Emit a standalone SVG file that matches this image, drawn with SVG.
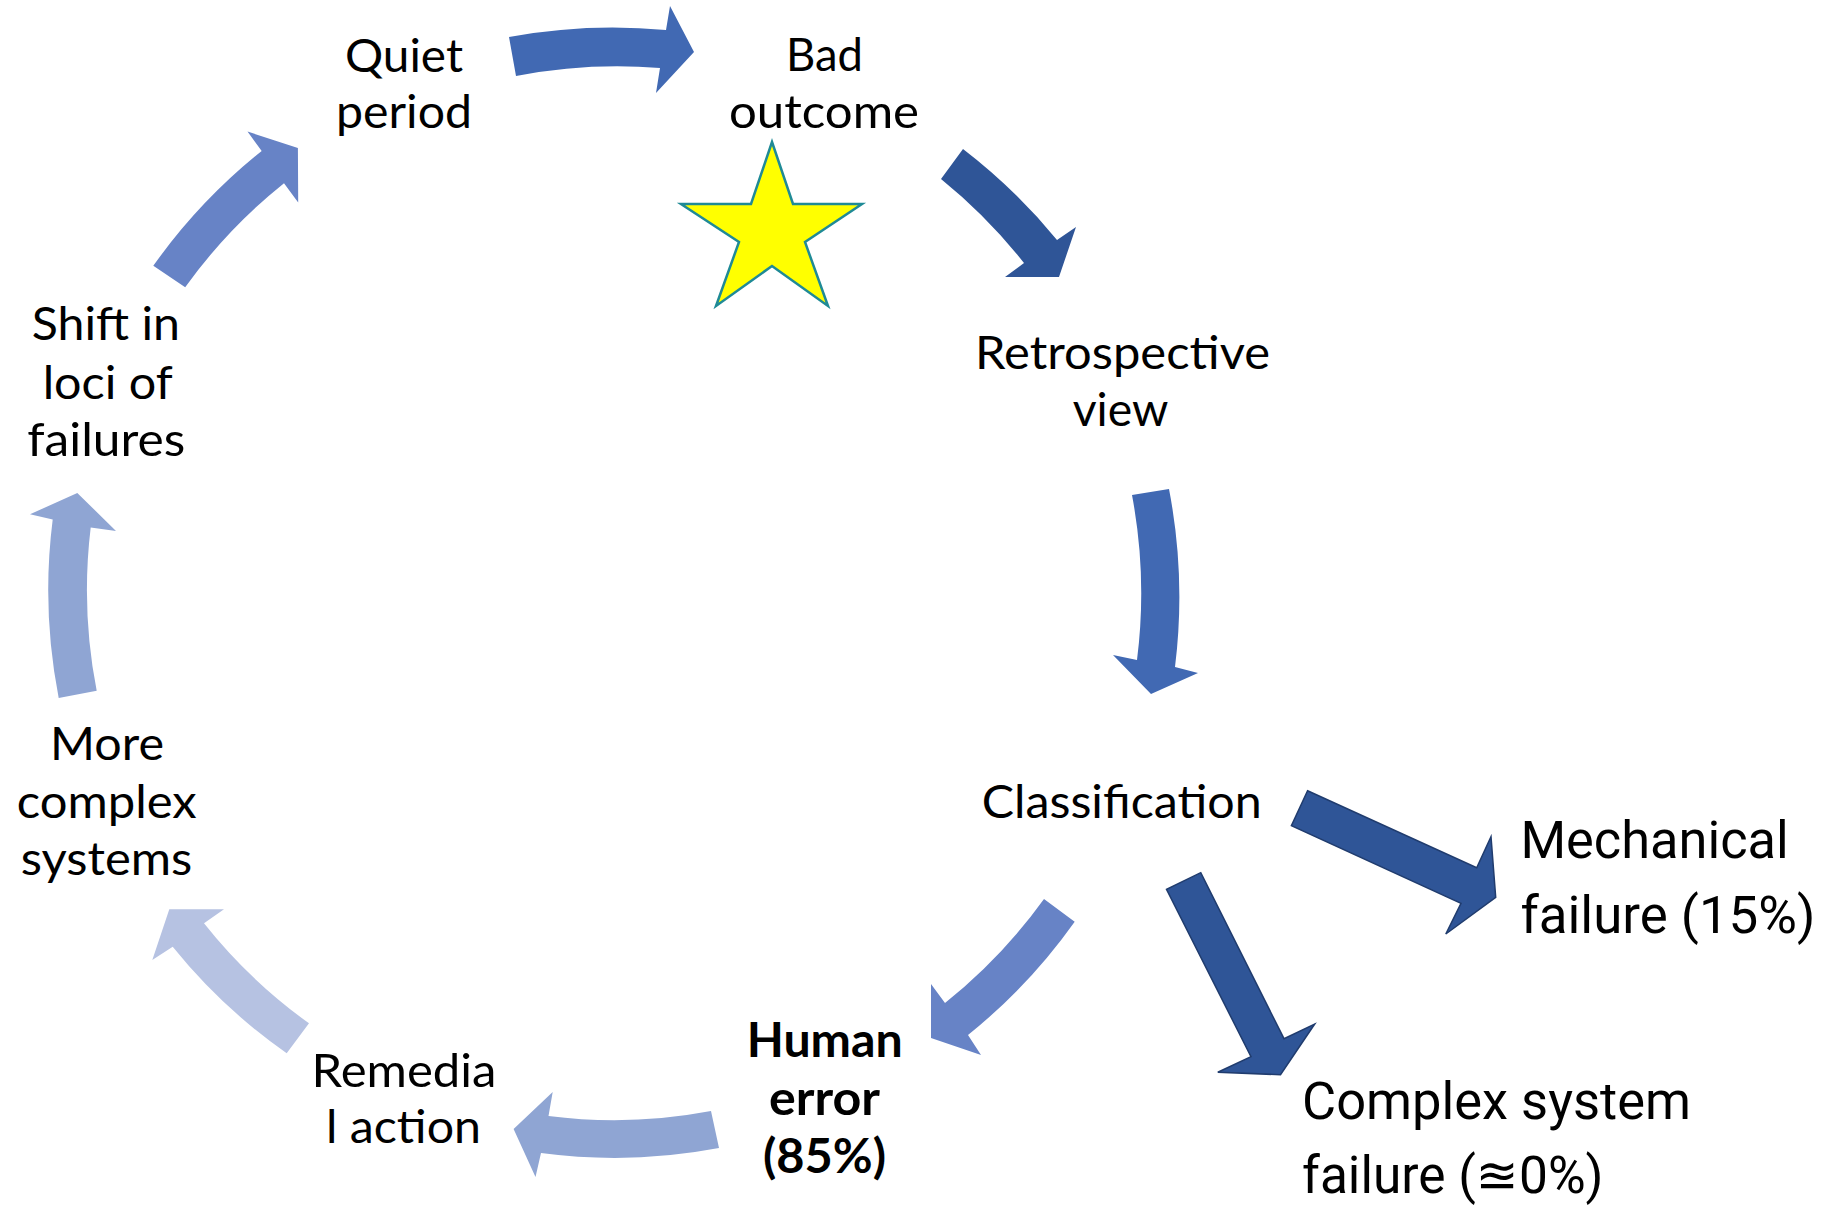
<svg xmlns="http://www.w3.org/2000/svg" width="1845" height="1205" viewBox="0 0 1845 1205">
  <style>
    .lbl { font-family: Lato, "Open Sans", "Liberation Sans", sans-serif; font-size: 47px; fill: #000; text-anchor: middle; }
    .bold { font-weight: bold; }
    .out { font-family: Roboto, "Liberation Sans", "DejaVu Sans", sans-serif; font-size: 51px; fill: #000; text-anchor: start; }
    .c1 { fill: #4169b3; }
    .c2 { fill: #2f5597; }
    .c3 { fill: #6783c6; }
    .c4 { fill: #8fa5d3; }
    .c5 { fill: #b6c2e2; }
    .edge { stroke: #203c6e; stroke-width: 1.5; stroke-linejoin: miter; }
  </style>
  <rect width="1845" height="1205" fill="#ffffff"/>

  <!-- curved cycle arrows share one centre (612,600); straight arrows branch off Classification -->
  <g id="connectors">
    <path id="quiet-to-bad" class="c1" d="M509,37 A572,572 0 0 1 666,30 L670,6 L694,52 L656,93 L660,68 A533,533 0 0 0 516,76 Z"/>
    <path id="bad-to-retro" class="c2" d="M963,149 A572,572 0 0 1 1057,240 L1076,227 L1059,277 L1005,277 L1024,263 A533,533 0 0 0 941,179 Z"/>
    <path id="retro-to-class" class="c1" d="M1169,489 A568,568 0 0 1 1175,667 L1198,673 L1151,694 L1113,655 L1137,660 A530,530 0 0 0 1132,495 Z"/>
    <path id="class-to-human" class="c3" d="M1074.7,921.7 A563,563 0 0 1 968,1035 L981,1055 L931,1038 L931,984 L945,1003 A524,524 0 0 0 1044,899 Z"/>
    <path id="human-to-remedial" class="c4" d="M719,1148 A558,558 0 0 1 541,1153 L535.5,1177 L513.6,1129 L552.7,1092 L548.5,1116 A520,520 0 0 0 711,1111 Z"/>
    <path id="remedial-to-more" class="c5" d="M286.7,1053.3 A558,558 0 0 1 172.7,946.7 L152.3,960 L169.3,909.3 L224,909.3 L204,923.3 A520,520 0 0 0 309,1023.3 Z"/>
    <path id="more-to-shift" class="c4" d="M58.7,698 A563,563 0 0 1 52.7,519.4 L30,514.3 L77.3,492.9 L116,531 L90.7,527.6 A524,524 0 0 0 96.7,690.8 Z"/>
    <path id="shift-to-quiet" class="c3" d="M153.3,265.8 A568,568 0 0 1 261.7,151 L247.5,131.6 L297.9,148 L298.2,202.5 L284,183.2 A530,530 0 0 0 185.2,287.2 Z"/>
    <path id="class-to-mechanical" class="c2 edge" d="M1307.6,790.7 L1476.7,867.7 L1491,836.7 L1495.7,897.3 L1445.8,934 L1461,903.3 L1291.4,825.7 Z"/>
    <path id="class-to-complex" class="c2 edge" d="M1200.7,872.7 L1284,1038.7 L1314.7,1024 L1280.5,1074.7 L1217.8,1072.3 L1251,1056.7 L1166.5,889.3 Z"/>
  </g>

  <g id="quiet-period">
    <text class="lbl" x="404" y="72" textLength="118" lengthAdjust="spacingAndGlyphs">Quiet</text>
    <text class="lbl" x="404" y="128" textLength="136" lengthAdjust="spacingAndGlyphs">period</text>
  </g>

  <g id="bad-outcome">
    <text class="lbl" x="824.5" y="71" textLength="77" lengthAdjust="spacingAndGlyphs">Bad</text>
    <text class="lbl" x="824" y="128" textLength="190" lengthAdjust="spacingAndGlyphs">outcome</text>
    <polygon points="772,142 793,204 862,204 805,242 828,306 772,266 716,306 739,242 681,204 751,204" fill="#ffff00" stroke="#1f8a96" stroke-width="2.5" stroke-linejoin="miter"/>
  </g>

  <g id="retrospective-view">
    <text class="lbl" x="1122.5" y="368.6" textLength="295" lengthAdjust="spacingAndGlyphs">Retrospective</text>
    <text class="lbl" x="1120.5" y="426" textLength="95.6" lengthAdjust="spacingAndGlyphs">view</text>
  </g>

  <g id="classification">
    <text class="lbl" x="1121.7" y="818.3" textLength="280" lengthAdjust="spacingAndGlyphs">Classification</text>
  </g>

  <g id="mechanical-failure">
    <text class="out" x="1520.4" y="858" textLength="268.4" lengthAdjust="spacingAndGlyphs">Mechanical</text>
    <text class="out" x="1520.4" y="932.7" textLength="295" lengthAdjust="spacingAndGlyphs">failure (15%)</text>
  </g>

  <g id="complex-system-failure">
    <text class="out" x="1302" y="1119" textLength="389" lengthAdjust="spacingAndGlyphs">Complex system</text>
    <text class="out" x="1302" y="1193" textLength="301.5" lengthAdjust="spacingAndGlyphs">failure (≊0%)</text>
  </g>

  <g id="human-error">
    <text class="lbl bold" x="824.7" y="1056.7" textLength="156" lengthAdjust="spacingAndGlyphs">Human</text>
    <text class="lbl bold" x="824.5" y="1115" textLength="111" lengthAdjust="spacingAndGlyphs">error</text>
    <text class="lbl bold" x="824.5" y="1173" textLength="123" lengthAdjust="spacingAndGlyphs">(85%)</text>
  </g>

  <g id="remedial-action">
    <text class="lbl" x="404" y="1086.7" textLength="185" lengthAdjust="spacingAndGlyphs">Remedia</text>
    <text class="lbl" x="403.5" y="1143.3" textLength="155" lengthAdjust="spacingAndGlyphs">l action</text>
  </g>

  <g id="more-complex-systems">
    <text class="lbl" x="107" y="760" textLength="114" lengthAdjust="spacingAndGlyphs">More</text>
    <text class="lbl" x="106.7" y="818.3" textLength="180" lengthAdjust="spacingAndGlyphs">complex</text>
    <text class="lbl" x="106.5" y="875" textLength="171.6" lengthAdjust="spacingAndGlyphs">systems</text>
  </g>

  <g id="shift-in-loci">
    <text class="lbl" x="105.8" y="339.8" textLength="148.3" lengthAdjust="spacingAndGlyphs">Shift in</text>
    <text class="lbl" x="107.7" y="398.5" textLength="130" lengthAdjust="spacingAndGlyphs">loci of</text>
    <text class="lbl" x="106.3" y="455.6" textLength="158" lengthAdjust="spacingAndGlyphs">failures</text>
  </g>
</svg>
